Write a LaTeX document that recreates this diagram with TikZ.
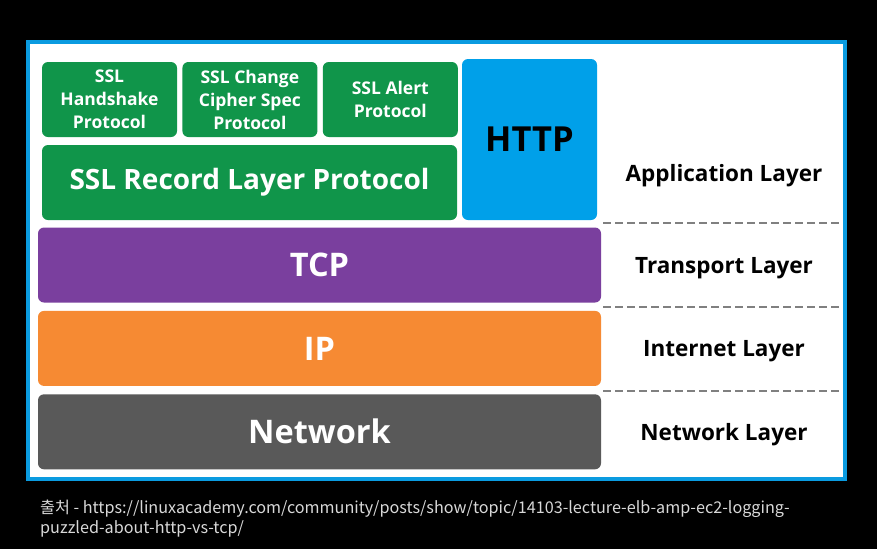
\documentclass[tikz,border=0pt]{standalone}
\usepackage{fontspec}
\setmainfont{Open Sans}
\newfontfamily\krfont{Noto Sans CJK KR}
\usetikzlibrary{positioning}
\definecolor{FrameBlue} {HTML}{0A9BE0}
\definecolor{SslGreen}  {HTML}{10954A}
\definecolor{HttpBlue}  {HTML}{00A0E9}
\definecolor{TcpPurple} {HTML}{7A3F9E}
\definecolor{IpOrange}  {HTML}{F68A33}
\definecolor{NetGray}   {HTML}{595959}
\definecolor{NoteGray}  {HTML}{D8D8D8}

\begin{document}
\begin{tikzpicture}[x=1pt,y=-1pt,
    blk/.style={rounded corners=6pt,inner sep=0pt,text=white,align=center},
    small/.style={blk,fill=SslGreen,minimum width=135pt,minimum height=75pt,
                  font=\fontsize{17.5}{23}\selectfont\bfseries},
    layer/.style={blk,minimum width=563pt,minimum height=75pt,
                  font=\fontsize{32.5}{36}\selectfont\bfseries},
    lbl/.style={font=\fontsize{22.5}{26}\selectfont\bfseries,text=black},
    note/.style={anchor=west,inner sep=0pt,text=NoteGray,
                 font=\krfont\fontsize{16.2}{19}\selectfont},
    sep/.style={dashed,dash pattern=on 8pt off 4pt,draw=gray,line width=1.2pt}]
  % background and frame
  \fill[black] (0,0) rectangle (877,549);
  \draw[FrameBlue,line width=4pt,fill=white] (28,42) rectangle (845,479);

  % SSL sub-protocols
  \node[small] (hs) at (109.5,99.5) {SSL\\Handshake\\Protocol};
  \node[small,right=5pt of hs] (ccs) {SSL Change\\Cipher Spec\\Protocol};
  \node[small,right=5pt of ccs] (alert) {SSL Alert\\Protocol};
  \node[blk,fill=SslGreen,minimum width=415pt,minimum height=75pt,
        font=\fontsize{28}{32}\selectfont\bfseries] (rec) at (249.5,182.5)
        {SSL Record Layer Protocol};
  \node[blk,fill=HttpBlue,text=black,minimum width=135pt,minimum height=161pt,
        font=\fontsize{34.5}{38}\selectfont\bfseries] (http) at (529.5,139.5) {HTTP};

  % lower layers
  \node[layer,fill=TcpPurple] (tcp) at (319.5,265) {TCP};
  \node[layer,fill=IpOrange,below=8pt of tcp] (ip) {IP};
  \node[layer,fill=NetGray,below=8pt of ip] (net) {Network};

  % layer names
  \draw[sep] (603,223) -- (842,223);
  \draw[sep] (603,307) -- (842,307);
  \draw[sep] (603,391) -- (842,391);
  \node[lbl] (app) at (724,176) {Application Layer};
  \node[lbl] (trn) at (724,268) {Transport Layer};
  \node[lbl] (inet) at (724,351) {Internet Layer};
  \node[lbl] (netl) at (724,435) {Network Layer};

  % source note
  \node[note] (src) at (40,509)
    {출처 - https://linuxacademy.com/community/posts/show/topic/14103-lecture-elb-amp-ec2-logging-};
  \node[note] (src2) at (40,529) {puzzled-about-http-vs-tcp/};
\end{tikzpicture}
\end{document}
